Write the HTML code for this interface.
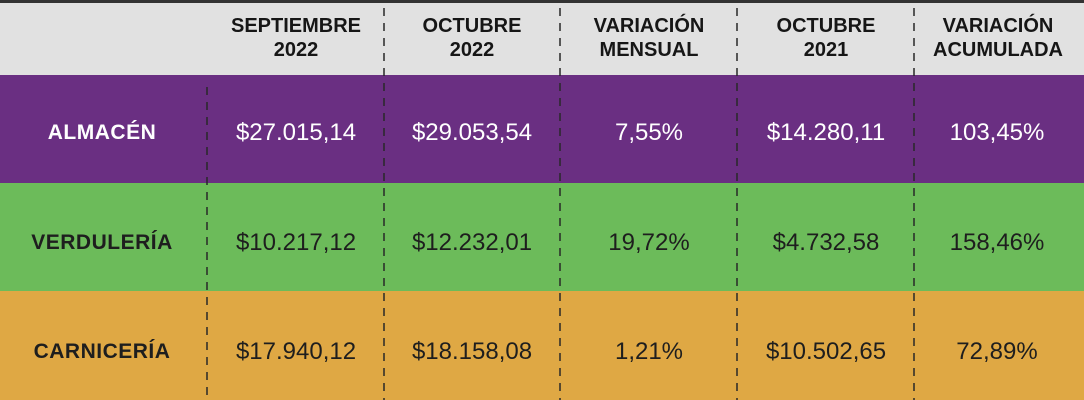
<!DOCTYPE html>
<html><head><meta charset="utf-8"><style>
*{margin:0;padding:0;box-sizing:border-box}
body{width:1084px;height:400px;overflow:hidden;position:relative;font-family:"Liberation Sans",sans-serif;background:#e1e1e1}
.top{position:absolute;left:0;top:0;width:1084px;height:3px;background:#333}
.band{position:absolute;left:0;width:1084px}
.t{position:absolute;text-align:center;transform:translateX(-50%);white-space:nowrap}
.h{font-weight:bold;font-size:20px;line-height:24px;color:#161616;top:14px}
.l{font-weight:bold;font-size:21px;letter-spacing:0.5px}
.v{font-size:24px}
.d{position:absolute;width:2px;background:repeating-linear-gradient(to bottom,rgba(40,40,40,0.75) 0 8px,transparent 8px 15px)}
</style></head><body>
<div class="top"></div>
<div class="band" style="top:75px;height:108px;background:#6a2f82"></div>
<div class="band" style="top:183px;height:108px;background:#6cbb5a"></div>
<div class="band" style="top:291px;height:109px;background:#dfa844"></div>

<div class="d" style="left:206px;top:87px;height:313px"></div>
<div class="d" style="left:383px;top:8px;height:392px"></div>
<div class="d" style="left:559px;top:8px;height:392px"></div>
<div class="d" style="left:736px;top:8px;height:392px"></div>
<div class="d" style="left:913px;top:8px;height:392px"></div>

<div class="t h" style="left:296px">SEPTIEMBRE<br>2022</div>
<div class="t h" style="left:472px">OCTUBRE<br>2022</div>
<div class="t h" style="left:649px">VARIACIÓN<br>MENSUAL</div>
<div class="t h" style="left:826px">OCTUBRE<br>2021</div>
<div class="t h" style="left:998px">VARIACIÓN<br>ACUMULADA</div>

<div class="t l" style="left:102px;top:121px;color:#fff">ALMACÉN</div>
<div class="t v" style="left:296px;top:119px;color:#fff">$27.015,14</div>
<div class="t v" style="left:472px;top:119px;color:#fff">$29.053,54</div>
<div class="t v" style="left:649px;top:119px;color:#fff">7,55%</div>
<div class="t v" style="left:826px;top:119px;color:#fff">$14.280,11</div>
<div class="t v" style="left:997px;top:119px;color:#fff">103,45%</div>

<div class="t l" style="left:102px;top:231px;color:#1e1e1e">VERDULERÍA</div>
<div class="t v" style="left:296px;top:229px;color:#1e1e1e">$10.217,12</div>
<div class="t v" style="left:472px;top:229px;color:#1e1e1e">$12.232,01</div>
<div class="t v" style="left:649px;top:229px;color:#1e1e1e">19,72%</div>
<div class="t v" style="left:826px;top:229px;color:#1e1e1e">$4.732,58</div>
<div class="t v" style="left:997px;top:229px;color:#1e1e1e">158,46%</div>

<div class="t l" style="left:102px;top:340px;color:#1e1e1e">CARNICERÍA</div>
<div class="t v" style="left:296px;top:338px;color:#1e1e1e">$17.940,12</div>
<div class="t v" style="left:472px;top:338px;color:#1e1e1e">$18.158,08</div>
<div class="t v" style="left:649px;top:338px;color:#1e1e1e">1,21%</div>
<div class="t v" style="left:826px;top:338px;color:#1e1e1e">$10.502,65</div>
<div class="t v" style="left:997px;top:338px;color:#1e1e1e">72,89%</div>
</body></html>
